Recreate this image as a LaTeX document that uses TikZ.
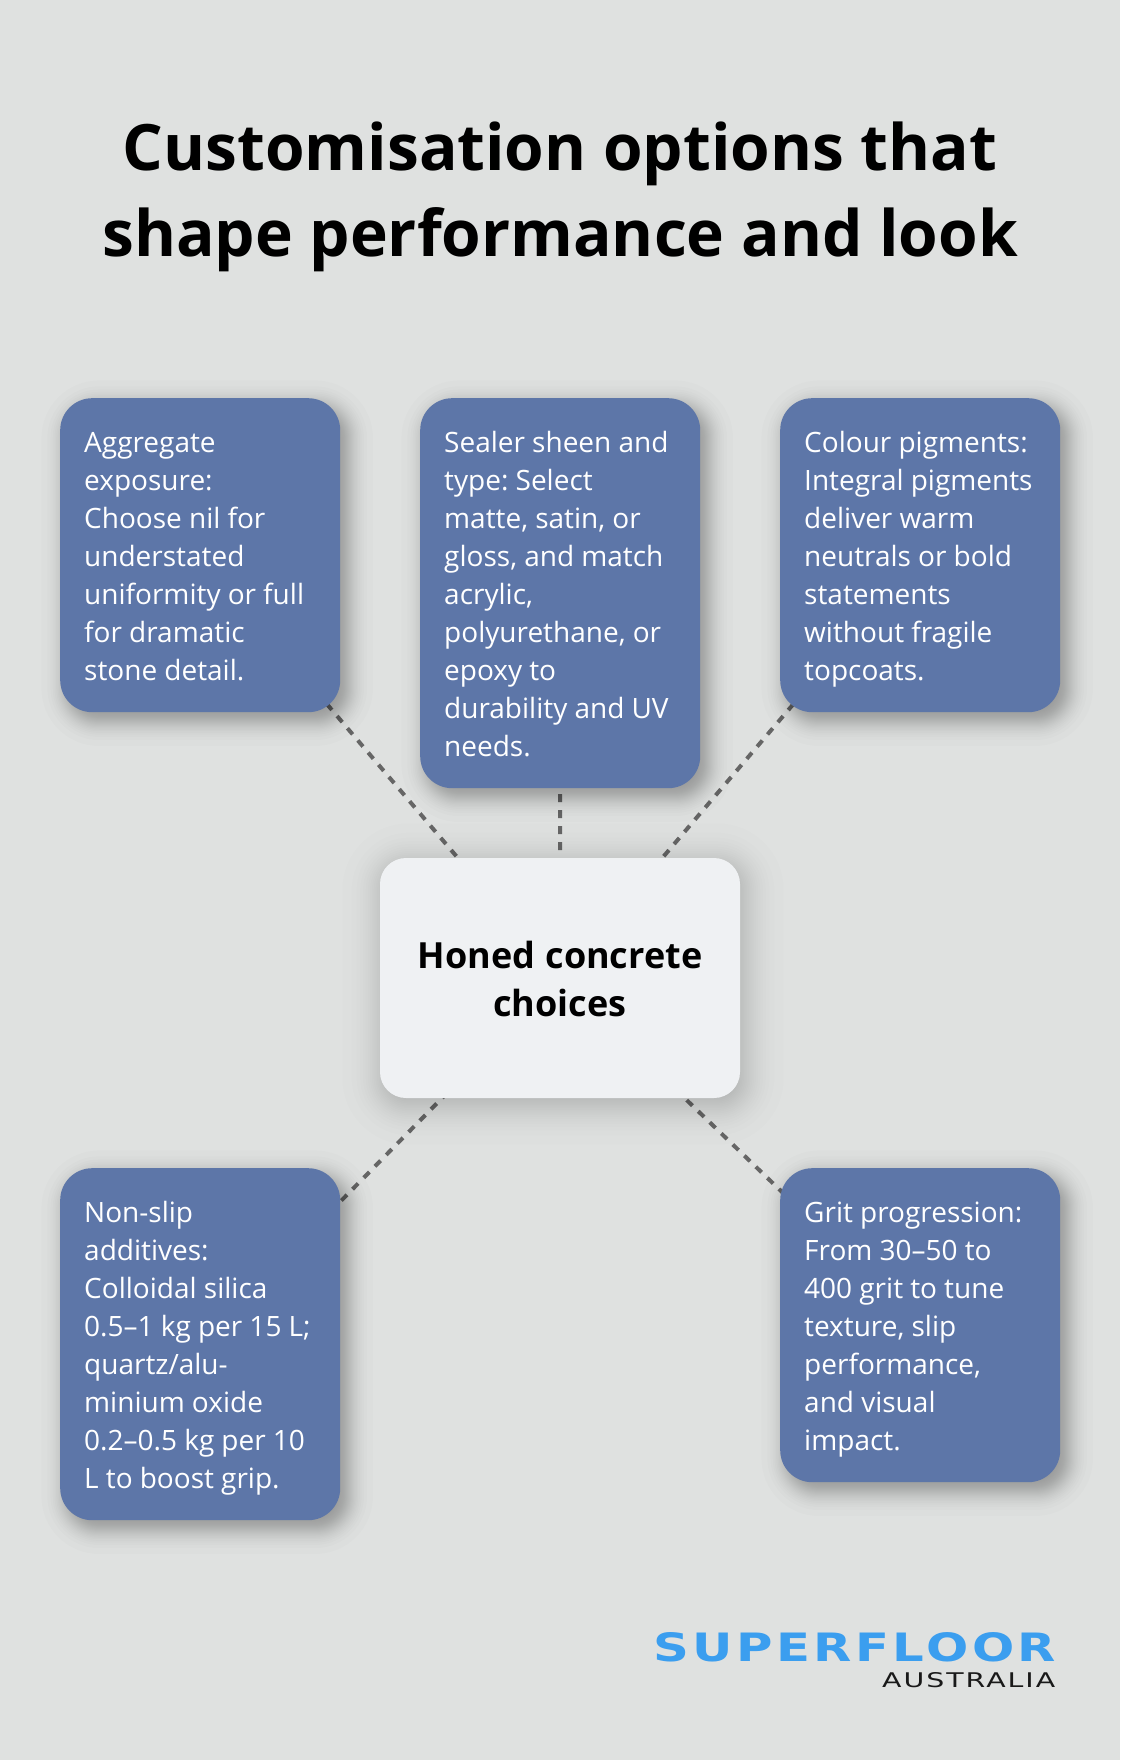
\documentclass[tikz,border=0pt]{standalone}
\usepackage{fontspec}
\usepackage{graphicx}
\usetikzlibrary{backgrounds,calc}
\setmainfont{Open Sans}
\newfontfamily\logofont[LetterSpace=7]{DejaVu Sans}
\definecolor{pagegrey}{HTML}{DFE1E0}
\definecolor{cardblue}{HTML}{5D76A8}
\definecolor{hubgrey}{HTML}{EFF1F3}
\definecolor{linkgrey}{HTML}{666666}
\definecolor{logoblue}{HTML}{3B9EEF}
\pgfdeclarelayer{shadow}
\pgfsetlayers{background,shadow,main}
\newcommand{\cardstrut}{\rule[-8pt]{0pt}{38pt}}
\newcommand{\hubstrut}{\rule[-10pt]{0pt}{48pt}}
% #1 node, #2 radius, #3 xshift, #4 yshift, #5 spread, #6 opacity of a slice
\newcommand{\softshadow}[6]{
	\foreach \quant in {-2.13,-1.64,-1.38,-1.19,-1.04,-.9,-.78,-.67,-.57,-.48,-.38,-.3,-.21,-.13,-.04,.04,.13,.21,.3,.38,.48,.57,.67,.78,.9,1.04,1.19,1.38,1.64,2.13}{
		\pgfmathsetmacro{\grw}{\quant*#5}
		\pgfmathsetmacro{\rad}{max(#2+\grw,4)}
		\fill[black,opacity=#6,rounded corners=\rad pt] ($(#1.north west)+(#3-\grw,#4-\grw)$) rectangle ($(#1.south east)+(#3+\grw,#4+\grw)$);
	}
}
\begin{document}
\begin{tikzpicture}
			[	x=1pt,y=-1pt,
			card/.style={rectangle,fill=cardblue,text=white,rounded corners=32pt,anchor=north west,
				text width=232pt,align=left,inner xsep=24pt,inner ysep=24pt,font=\fontsize{28}{38}\selectfont\frenchspacing,
				execute at begin node={\spaceskip=7.15pt\relax\cardstrut},execute at end node=\cardstrut},
			hub/.style={rectangle,fill=hubgrey,text=black,rounded corners=26pt,minimum width=360pt,minimum height=240pt,
				text width=320pt,align=center,inner sep=0pt,font=\fontsize{36}{48}\selectfont\bfseries,
				execute at begin node={\spaceskip=10.3pt\relax\hubstrut},execute at end node=\hubstrut},
			link/.style={draw=linkgrey,line width=4pt,dash pattern=on 8pt off 8pt},
			heading/.style={text=black,align=center,inner sep=0pt,font=\fontsize{64}{86}\selectfont\bfseries}
			]
			\useasboundingbox (0,0) rectangle (1120,1760);

			\node[heading] (title) at (560,197) {Customisation options that\\shape performance and look};

			\node[hub] (honed) at (560,978) {Honed concrete\\choices};

			\node[card] (aggregate) at (60,398) {Aggregate\\exposure:\\Choose nil for\\understated\\uniformity or full\\for dramatic\\stone detail.};
			\node[card] (sealer) at (420,398) {Sealer sheen and\\type: Select\\matte, satin, or\\gloss, and match\\acrylic,\\polyurethane, or\\epoxy to\\durability and UV\\needs.};
			\node[card] (colour) at (780,398) {Colour pigments:\\Integral pigments\\deliver warm\\neutrals or bold\\statements\\without fragile\\topcoats.};
			\node[card] (nonslip) at (60,1168) {Non-slip\\additives:\\Colloidal silica\\0.5–1 kg per 15 L;\\quartz/alu-\\minium oxide\\0.2–0.5 kg per 10\\L to boost grip.};
			\node[card] (grit) at (780,1168) {Grit progression:\\From 30–50 to\\400 grit to tune\\texture, slip\\performance,\\and visual\\impact.};

			\node[anchor=south west,inner sep=0pt,text=logoblue] (logotop) at (653,1662) {\resizebox{403pt}{29pt}{\logofont\bfseries SUPERFLOOR}};
			\node[anchor=south west,inner sep=0pt,text=black!90] (logobottom) at (882,1688) {\resizebox{173pt}{15pt}{\logofont AUSTRALIA}};

			\begin{pgfonlayer}{shadow}
				\foreach \card in {aggregate,sealer,colour,nonslip,grit}
					\softshadow{\card}{32}{7}{8}{12}{.011};
				\softshadow{honed}{26}{3}{6}{19}{.007};
			\end{pgfonlayer}

			\begin{pgfonlayer}{background}
				\fill[pagegrey] (0,0) rectangle (1120,1760);
				\draw[link] (honed.center) -- (aggregate.center);
				\draw[link] (honed.center) -- (sealer.center);
				\draw[link] (honed.center) -- (colour.center);
				\draw[link] (honed.center) -- (nonslip.center);
				\draw[link] (honed.center) -- (grit.center);
			\end{pgfonlayer}
		\end{tikzpicture}
\end{document}
